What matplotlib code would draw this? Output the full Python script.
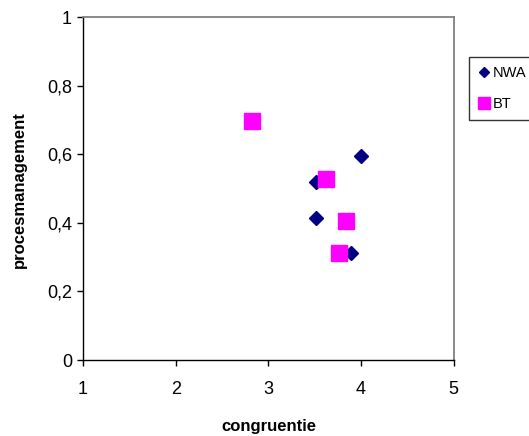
import matplotlib
matplotlib.use("Agg")
import matplotlib.pyplot as plt
from matplotlib.lines import Line2D

plt.rcParams['font.family'] = ['Liberation Sans', 'DejaVu Sans']

nwa_x = [4.0, 3.52, 3.52, 3.89]
nwa_y = [0.595, 0.518, 0.415, 0.313]
bt_x = [2.82, 3.62, 3.84, 3.76]
bt_y = [0.697, 0.527, 0.406, 0.313]

x_ticks = [1, 2, 3, 4, 5]
y_ticks = [0, 0.2, 0.4, 0.6, 0.8, 1]
y_labels = ['0', '0,2', '0,4', '0,6', '0,8', '1']

W, H = 529, 436
fig = plt.figure(figsize=(W/100, H/100), dpi=100)
ax = fig.add_axes([83/W, 1-360/H, (453.5-83)/W, (360-17)/H])

ax.plot(nwa_x, nwa_y, linestyle='none', marker='D', ms=7.3, color='#000080', label='NWA', clip_on=False, zorder=3)
ax.plot(bt_x, bt_y, linestyle='none', marker='s', ms=12, color='#FF00FF', label='BT', clip_on=False, zorder=4)

ax.set_xlim(1, 5)
ax.set_ylim(0, 1)
ax.set_xticks(x_ticks)
ax.set_xticklabels([str(t) for t in x_ticks])
ax.set_yticks(y_ticks)
ax.set_yticklabels(y_labels)
ax.tick_params(axis='both', direction='out', length=4.5, width=1, colors='black', labelsize=13)
ax.tick_params(axis='x', pad=10.5)
ax.tick_params(axis='y', pad=3.5)

for s in ['left', 'bottom']:
    ax.spines[s].set_color('black')
    ax.spines[s].set_linewidth(1)
for s in ['top', 'right']:
    ax.spines[s].set_color('#808080')
    ax.spines[s].set_linewidth(1.3)

fig.text(269/W, 1-426/H, 'congruentie', fontsize=12, fontweight='bold', ha='center', va='center')
fig.text(19/W, 1-190/H, 'procesmanagement', fontsize=12, fontweight='bold', ha='center', va='center', rotation=90)

handles = [Line2D([], [], linestyle='none', marker='D', ms=5.2, color='#000080'),
           Line2D([], [], linestyle='none', marker='s', ms=8.5, color='#FF00FF')]
leg = fig.legend(handles, ['NWA', 'BT'], loc='upper left',
                 bbox_to_anchor=(469/W, 1-57/H), frameon=True, fancybox=False,
                 fontsize=10.5, handlelength=0.9, handletextpad=0.15, borderpad=0.6,
                 labelspacing=1.2, borderaxespad=0)
leg.get_frame().set_edgecolor('black')
leg.get_frame().set_linewidth(1)

fig.savefig('out.png', dpi=100)
